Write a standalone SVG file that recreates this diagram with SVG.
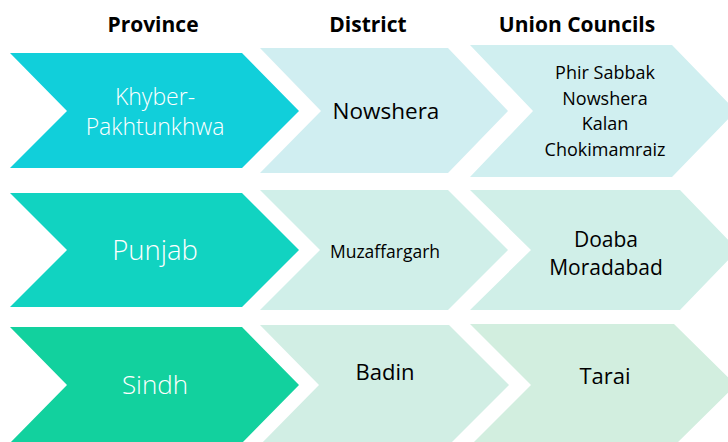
<svg xmlns="http://www.w3.org/2000/svg" width="728" height="442" viewBox="0 0 728 442">
<style>
text{font-family:"Open Sans","Noto Sans","Liberation Sans",sans-serif;text-anchor:middle}
.h{font-weight:bold;font-size:21px;fill:#000}
.w{fill:#fff;font-weight:300}
.b{fill:#000}
</style>
<rect width="728" height="442" fill="#fff"/>
<g id="header">
<text class="h" x="153" y="32">Province</text>
<text class="h" x="368" y="32">District</text>
<text class="h" x="577" y="32">Union Councils</text>
</g>
<g id="kp">
<polygon points="10,53 242,53 299,111 242,168 10,168 67,111" fill="#11CFDA"/>
<text class="w" x="155" y="105" font-size="23">Khyber-</text>
<text class="w" x="155" y="135" font-size="23">Pakhtunkhwa</text>
</g>
<g id="nowshera-district">
<polygon points="260,48 448,48 508,111 448,173 260,173 321,111" fill="#D0EEF1"/>
<text class="b" x="386" y="119" font-size="22.5">Nowshera</text>
</g>
<g id="kp-ucs">
<polygon points="470,45 672,45 736,111 672,177 470,177 533,111" fill="#D0EFF0"/>
<text class="b" x="605" y="79" font-size="18">Phir Sabbak</text>
<text class="b" x="605" y="105" font-size="18">Nowshera</text>
<text class="b" x="605" y="130" font-size="18">Kalan</text>
<text class="b" x="605" y="156" font-size="18">Chokimamraiz</text>
</g>
<g id="punjab">
<polygon points="10,193 242,193 299,250 242,307 10,307 67,250" fill="#11D3C1"/>
<text class="w" x="155" y="260" font-size="27.5">Punjab</text>
</g>
<g id="muzaffargarh">
<polygon points="260,190 448,190 508,250 448,310 260,310 320,250" fill="#D0EFE9"/>
<text class="b" x="385" y="258" font-size="17.5">Muzaffargarh</text>
</g>
<g id="punjab-ucs">
<polygon points="470,190 680,190 738,250 680,310 470,310 531,250" fill="#D0EFE8"/>
<text class="b" x="606" y="247" font-size="21">Doaba</text>
<text class="b" x="606" y="275" font-size="21">Moradabad</text>
</g>
<g id="sindh">
<polygon points="10,327 242,327 299,385 242,443 10,443 67,385" fill="#12D19E"/>
<text class="w" x="155" y="394" font-size="26">Sindh</text>
</g>
<g id="badin">
<polygon points="260,325 449,325 509,385 449,445 260,445 319,385" fill="#D1EEE4"/>
<text class="b" x="385" y="380" font-size="22">Badin</text>
</g>
<g id="sindh-ucs">
<polygon points="470,324 674,324 736,385 674,446 470,446 531,385" fill="#D2EEDF"/>
<text class="b" x="605" y="384" font-size="22">Tarai</text>
</g>
<g id="connectors"/>
</svg>
